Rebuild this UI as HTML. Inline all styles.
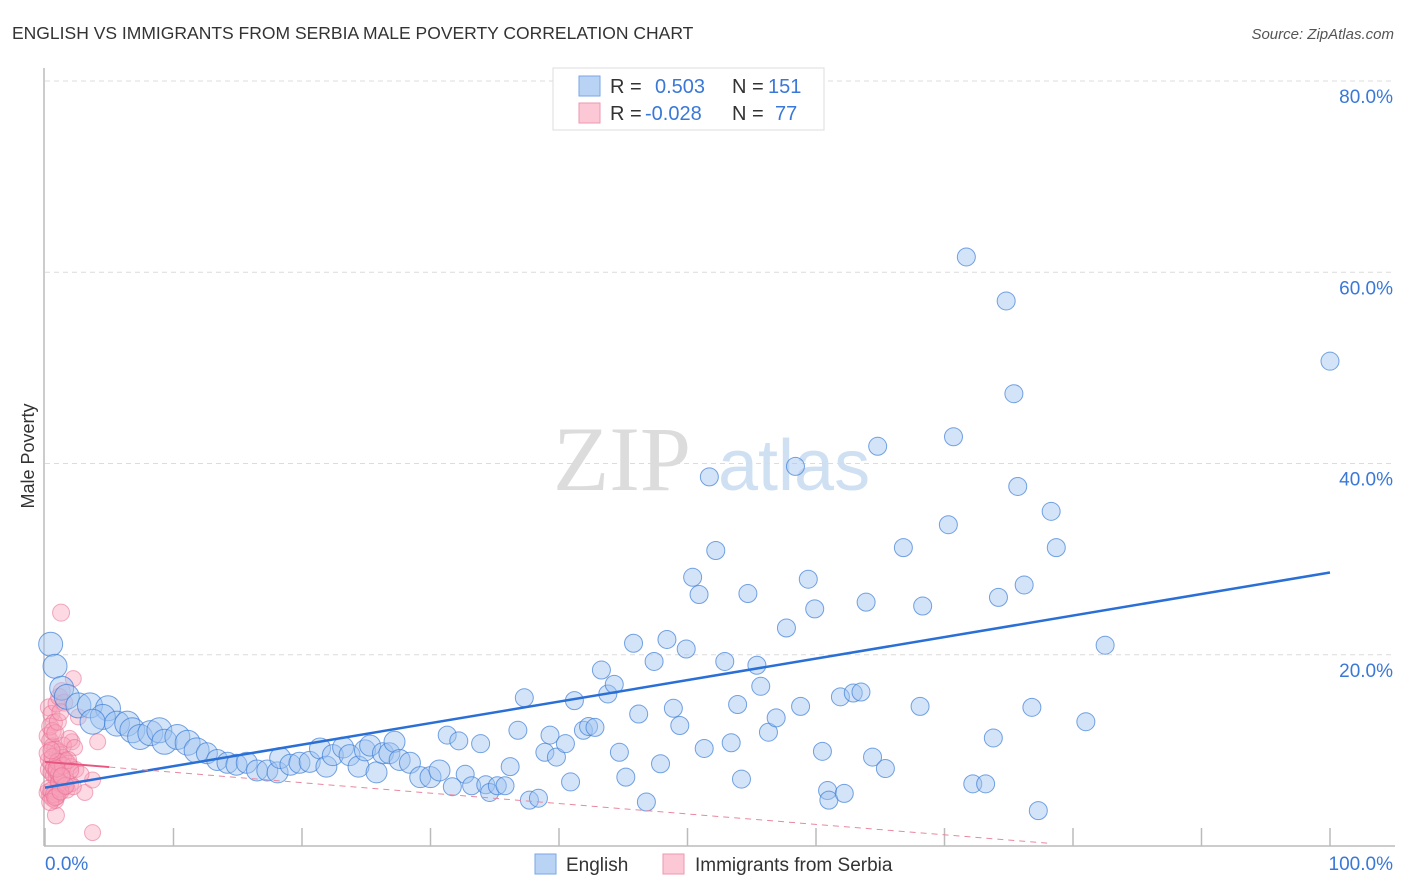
<!DOCTYPE html>
<html><head><meta charset="utf-8">
<style>
body{margin:0;background:#fff;font-family:"Liberation Sans",sans-serif;}
#wrap{position:relative;width:1406px;height:892px;overflow:hidden;}
</style></head>
<body>
<div id="wrap">
<svg id="chart" width="1406" height="892">
  <text x="12" y="39" font-size="17.5" fill="#333">ENGLISH VS IMMIGRANTS FROM SERBIA MALE POVERTY CORRELATION CHART</text>
  <text x="1394" y="39" font-size="15" fill="#555" font-style="italic" text-anchor="end">Source: ZipAtlas.com</text>
  <g>
    <text x="553" y="490" font-size="92" font-family="Liberation Serif,serif" fill="#dcdcdc">ZIP</text>
    <text x="718" y="490" font-size="72" fill="#d0e0f3">atlas</text>
  </g>
  <g id="grid"></g>
  <g id="axes"></g>
  <g id="pink"></g>
  <g id="blue"></g>
  <g id="lines"></g>
  <text transform="translate(34,456) rotate(-90)" font-size="18" fill="#333" text-anchor="middle">Male Poverty</text>
  <g>
    <rect x="553" y="68" width="271" height="62" fill="#fff" stroke="#ddd"/>
    <rect x="579" y="76" width="21" height="20" fill="#b9d3f5" stroke="#7aa6e6"/>
    <rect x="579" y="103" width="21" height="20" fill="#fcc8d6" stroke="#ee97b0"/>
    <text x="610" y="93" font-size="20" fill="#333">R =</text>
    <text x="655" y="93" font-size="20" fill="#3a78d8">0.503</text>
    <text x="732" y="93" font-size="20" fill="#333">N =</text>
    <text x="768" y="93" font-size="20" fill="#3a78d8">151</text>
    <text x="610" y="120" font-size="20" fill="#333">R =</text>
    <text x="645" y="120" font-size="20" fill="#3a78d8">-0.028</text>
    <text x="732" y="120" font-size="20" fill="#333">N =</text>
    <text x="775" y="120" font-size="20" fill="#3a78d8">77</text>
  </g>
  <g>
    <rect x="535" y="854" width="21" height="20" fill="#b9d3f5" stroke="#7aa6e6"/>
    <text x="566" y="871" font-size="19" fill="#333">English</text>
    <rect x="663" y="854" width="21" height="20" fill="#fcc8d6" stroke="#ee97b0"/>
    <text x="695" y="871" font-size="19" fill="#333">Immigrants from Serbia</text>
  </g>
</svg>
</div>
<script>
const yTicks=[20,40,60,80];
const yTickLabels=["20.0%","40.0%","60.0%","80.0%"];
const xTicks=[0,10,20,30,40,50,60,70,80,90,100];
const xEndLabels=["0.0%","100.0%"];
const blueX=[0.44,0.78,1.3,1.7,2.6,3.5,4.9,4.5,3.7,5.6,6.4,6.8,7.4,8.2,8.9,9.3,10.3,11.1,11.8,12.6,13.4,14.2,14.9,15.7,16.5,17.3,18.1,18.3,19.1,19.8,20.6,21.4,21.9,22.4,23.2,23.7,24.4,24.9,25.3,25.8,26.3,26.8,27.2,27.6,28.4,29.2,30.0,30.7,
31.3,31.7,32.2,32.7,33.2,33.9,34.3,34.6,35.2,35.8,36.2,36.8,37.3,37.7,38.4,38.9,39.3,39.8,40.5,40.9,41.2,41.9,42.3,42.8,43.3,43.8,44.3,44.7,45.2,45.8,46.2,46.8,47.4,47.9,48.4,48.9,49.4,49.9,50.4,50.9,51.3,51.7,52.2,52.9,53.4,53.9,54.2,54.7,55.4,55.7,56.3,56.9,57.7,58.4,58.8,59.4,59.9,60.5,60.9,61.0,62.2,61.9,62.9,63.5,63.9,64.4,64.8,65.4,66.8,68.1,68.3,70.3,70.7,71.7,72.2,73.2,73.8,74.2,74.8,75.4,75.7,76.2,76.8,77.3,78.3,78.7,81.0,82.5,100];
const blueY=[21.1,18.8,16.5,15.6,14.7,14.7,14.4,13.5,13.0,12.8,12.8,12.1,11.4,11.8,12.1,10.9,11.4,10.8,10.0,9.7,9.0,8.7,8.5,8.7,7.9,7.9,7.7,9.2,8.5,8.7,8.8,10.2,8.3,9.5,10.3,9.5,8.3,10.0,10.5,7.7,9.7,9.7,10.9,9.0,8.7,7.2,7.2,7.9,
11.6,6.2,11.0,7.5,6.3,10.7,6.4,5.6,6.3,6.3,8.3,12.1,15.5,4.8,5.0,9.8,11.6,9.3,10.7,6.7,15.2,12.1,12.5,12.4,18.4,15.9,16.9,9.8,7.2,21.2,13.8,4.6,19.3,8.6,21.6,14.4,12.6,20.6,28.1,26.3,10.2,38.6,30.9,19.3,10.8,14.8,7.0,26.4,18.9,16.7,11.9,13.4,22.8,39.7,14.6,27.9,24.8,9.9,5.8,4.8,5.5,15.6,16.0,16.1,25.5,9.3,41.8,8.1,31.2,14.6,25.1,33.6,42.8,61.6,6.5,6.5,11.3,26.0,57.0,47.3,37.6,27.3,14.5,3.7,35.0,31.2,13.0,21.0,50.7];
const pinkX=[1.25,3.7,0.85,4.1,2.2,3.1,3.7,2.1,0.3,0.5,0.7,0.9,1.1,1.3,1.5,0.2,0.4,0.6,0.8,1.0,1.2,1.4,1.6,1.8,2.0,0.3,0.5,0.7,0.9,1.1,1.3,1.5,1.7,0.2,0.4,0.6,0.8,1.0,1.2,0.3,0.5,0.7,0.9,1.1,1.4,1.9,2.3,2.6,0.4,0.6,0.8,1.0,1.2,1.6,2.0,2.4,2.8,0.3,0.5,0.7,0.9,1.1,1.3,0.2,0.6,1.0,1.4,1.8,2.2,0.4,0.8,1.2,1.6,2.0,0.5,0.9,1.3];
const pinkY=[24.4,1.4,3.2,10.9,17.5,5.6,6.9,10.9,14.5,13.8,12.9,14.9,15.6,16.2,15.0,11.5,11.0,10.4,10.1,9.8,9.5,9.2,8.9,8.6,8.3,8.0,7.7,7.4,7.1,6.8,6.5,6.2,5.9,5.6,5.3,5.0,4.8,5.5,6.0,9.0,8.6,8.2,7.8,7.5,10.5,11.2,10.3,13.5,12.5,12.0,11.8,13.0,14.0,7.0,6.5,8.0,7.5,6.0,5.8,5.4,5.2,6.6,7.2,9.7,9.3,8.8,8.4,9.0,6.2,4.6,5.1,5.7,6.3,7.9,10.0,8.1,7.3];
const trendIntercepts=[6.1,8.8];
const trendSlopes=[0.225,-0.109];
const trendEnds=[100,78];

const NS="http://www.w3.org/2000/svg";
const X0=45,X1=1330,Y0=846,Y80=81;
function sx(v){return X0+(X1-X0)*v/100;}
function sy(v){return Y0-(Y0-Y80)*v/80;}
function mk(tag,attrs,parent){const e=document.createElementNS(NS,tag);for(const k in attrs)e.setAttribute(k,attrs[k]);parent.appendChild(e);return e;}
const grid=document.getElementById('grid'),axes=document.getElementById('axes');
yTicks.forEach((t,i)=>{
  const l=mk('line',{x1:X0,x2:1395,y1:sy(t),y2:sy(t),stroke:'#dcdcdc','stroke-dasharray':'5,4'},grid);
  
  
  const tx=mk('text',{x:1393,y:sy(t)+22,'font-size':19,fill:'#3a78d8','text-anchor':'end'},axes);
  tx.textContent=yTickLabels[i];
  
  
});
const ax=mk('line',{x1:44,x2:44,y1:68,y2:Y0,stroke:'#bbb','stroke-width':1.5},axes);


const bx=mk('line',{x1:44,x2:1395,y1:Y0,y2:Y0,stroke:'#bbb','stroke-width':1.5},axes);


xTicks.forEach(t=>{
  const l=mk('line',{x1:sx(t),x2:sx(t),y1:828,y2:Y0,stroke:'#bbb','stroke-width':1.5},axes);
  
  
});
const xl0=mk('text',{x:45,y:870,'font-size':19,fill:'#3a78d8'},axes);xl0.textContent=xEndLabels[0];


const xl1=mk('text',{x:1393,y:870,'font-size':19,fill:'#3a78d8','text-anchor':'end'},axes);xl1.textContent=xEndLabels[1];



const pg=document.getElementById('pink');
pinkX.forEach((x,i)=>{
  const c=mk('circle',{cx:sx(x),cy:sy(pinkY[i]),r:x<2?8.5:8,fill:'rgba(248,160,185,0.4)',stroke:'rgba(232,110,145,0.55)','stroke-width':1},pg);
  
  
});
const bg=document.getElementById('blue');
blueX.forEach((x,i)=>{
  const r=x<1.5?12:(x<12?12.5:(x<31?10.5:9));
  const c=mk('circle',{cx:sx(x),cy:sy(blueY[i]),r:r,fill:'rgba(160,195,240,0.45)',stroke:'rgba(60,125,215,0.7)','stroke-width':1},bg);
  
  
});
const lg=document.getElementById('lines');
const bl=mk('line',{x1:sx(0),y1:sy(trendIntercepts[0]),x2:sx(trendEnds[0]),y2:sy(trendIntercepts[0]+trendSlopes[0]*trendEnds[0]),stroke:'#2a6fd6','stroke-width':2.5},lg);


const ps=mk('line',{x1:sx(0),y1:sy(trendIntercepts[1]),x2:sx(5),y2:sy(trendIntercepts[1]+trendSlopes[1]*5),stroke:'#e8557f','stroke-width':2},lg);


const pd=mk('line',{x1:sx(5),y1:sy(trendIntercepts[1]+trendSlopes[1]*5),x2:sx(trendEnds[1]),y2:sy(trendIntercepts[1]+trendSlopes[1]*trendEnds[1]),stroke:'#e8889f','stroke-width':1,'stroke-dasharray':'6,5'},lg);


</script>
</body></html>
